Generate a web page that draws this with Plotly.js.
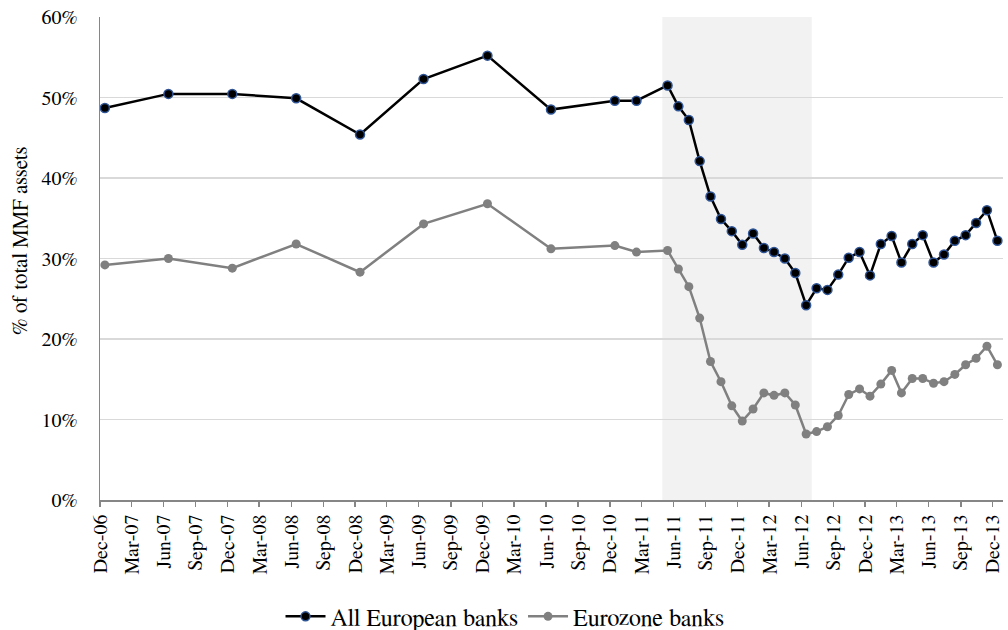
<!DOCTYPE html>
<html>
<head>
<meta charset="utf-8">
<script src="https://cdn.plot.ly/plotly-3.0.1.min.js"></script>
<style>html,body{margin:0;padding:0;background:#fff;}#chart{width:1008px;height:630px;}</style>
</head>
<body>
<div id="chart"></div>
<script>
const dates = [
  "2006-12-15","2007-06-15","2007-12-15","2008-06-15","2008-12-15","2009-06-15","2009-12-15","2010-06-15","2010-12-15","2011-02-15",
  "2011-05-15","2011-06-15","2011-07-15","2011-08-15","2011-09-15","2011-10-15","2011-11-15","2011-12-15",
  "2012-01-15","2012-02-15","2012-03-15","2012-04-15","2012-05-15","2012-06-15","2012-07-15","2012-08-15","2012-09-15","2012-10-15","2012-11-15","2012-12-15",
  "2013-01-15","2013-02-15","2013-03-15","2013-04-15","2013-05-15","2013-06-15","2013-07-15","2013-08-15","2013-09-15","2013-10-15","2013-11-15","2013-12-15"
];
const allEuropean = [48.7,50.45,50.45,49.9,45.4,52.3,55.2,48.5,49.6,49.6,
  51.5,48.9,47.2,42.1,37.7,34.9,33.4,31.7,
  33.1,31.3,30.8,30.0,28.2,24.2,26.3,26.1,28.0,30.1,30.8,27.9,
  31.8,32.8,29.5,31.8,32.9,29.5,30.5,32.2,32.9,34.4,36.0,32.2];
const eurozone = [29.2,30.0,28.8,31.8,28.3,34.3,36.8,31.2,31.6,30.8,
  31.0,28.7,26.5,22.6,17.2,14.7,11.7,9.8,
  11.3,13.3,13.0,13.3,11.8,8.2,8.5,9.1,10.5,13.1,13.8,12.9,
  14.4,16.1,13.3,15.1,15.1,14.5,14.7,15.6,16.8,17.6,19.1,16.8];
const seriesNames = ["All European banks","Eurozone banks"];
const yTitle = "% of total MMF assets";
const shadeStart = "2011-04-30", shadeEnd = "2012-07-01";

const font = "Nimbus Roman, FreeSerif, Noto Serif, serif";
const traces = [
  {x: dates, y: allEuropean, name: seriesNames[0], type: "scatter", mode: "lines+markers",
   line: {color: "#000000", width: 2.5},
   marker: {color: "#000000", size: 9, line: {color: "#2f5597", width: 1.5}}},
  {x: dates, y: eurozone, name: seriesNames[1], type: "scatter", mode: "lines+markers",
   line: {color: "#808080", width: 2.5},
   marker: {color: "#808080", size: 9}}
];
const layout = {
  width: 1008, height: 630,
  margin: {l: 100, r: 5, t: 17, b: 130},
  paper_bgcolor: "#ffffff", plot_bgcolor: "#ffffff",
  font: {family: font, size: 20, color: "#000000"},
  showlegend: true,
  legend: {orientation: "h", xref: "container", yref: "container",
           x: 0.501, xanchor: "center", y: 0.021, yanchor: "middle",
           font: {family: font, size: 24, color: "#000"}, itemwidth: 40, tracegroupgap: 0},
  xaxis: {type: "date", range: ["2006-12-01", "2013-12-31"], automargin: false,
          tick0: "2006-12-01", dtick: "M3", tickformat: "%b-%y", tickangle: -90,
          ticks: "outside", ticklen: 5, tickcolor: "#868686", tickwidth: 1.5,
          showline: true, linecolor: "#868686", linewidth: 1.5,
          showgrid: false, zeroline: false,
          tickfont: {family: font, size: 20}},
  yaxis: {range: [0, 60], dtick: 10, ticksuffix: "%", automargin: false,
          showline: true, linecolor: "#868686", linewidth: 1.5,
          showgrid: true, gridcolor: "#d9d9d9", gridwidth: 1.5,
          zeroline: false, ticks: "", ticklabelstandoff: 17,
          tickfont: {family: font, size: 20}},
  annotations: [{text: yTitle, textangle: -90, xref: "paper", yref: "paper",
                 x: -0.0886, y: 0.538, xanchor: "center", yanchor: "middle", showarrow: false,
                 font: {family: font, size: 21, color: "#000"}}],
  shapes: [{type: "rect", xref: "x", yref: "paper", x0: shadeStart, x1: shadeEnd, y0: 0, y1: 1,
            fillcolor: "#f2f2f2", line: {width: 0}, layer: "between"}]
};
Plotly.newPlot("chart", traces, layout, {displayModeBar: false, staticPlot: true});
</script>
</body>
</html>
